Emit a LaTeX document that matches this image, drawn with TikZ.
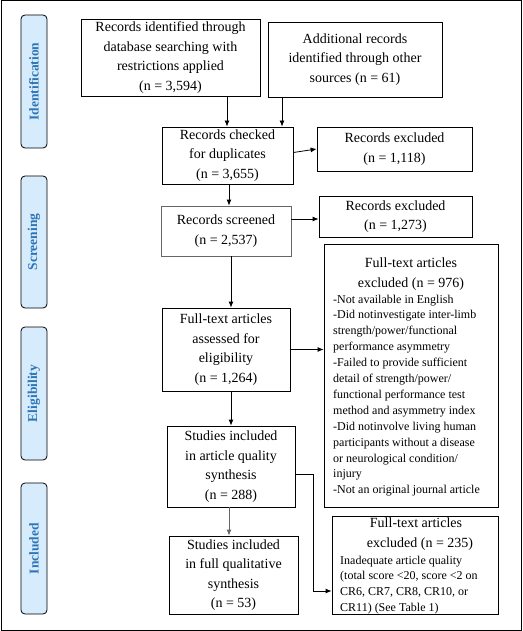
\documentclass[tikz,border=0pt]{standalone}
\usepackage{fontspec}
\setmainfont{Liberation Serif}
\usetikzlibrary{arrows.meta,calc}
\definecolor{phasefill}{RGB}{214,236,253}
\definecolor{phasetext}{RGB}{46,117,182}
\tikzset{
  box/.style={draw, line width=0.8pt, inner sep=0pt, align=center, font=\fontsize{14}{19.5}\selectfont},
  phase/.style={draw, line width=0.8pt, rounded corners=4pt, fill=phasefill, text=phasetext, rotate=90, minimum height=26pt, inner sep=0pt, font=\fontsize{13.5}{15}\selectfont\bfseries},
  arr/.style={line width=0.8pt, -{Latex[length=6pt,width=5pt]}},
  small/.style={inner sep=0pt, align=left, font=\fontsize{12}{15.9}\selectfont},
  title/.style={inner sep=0pt, align=center, font=\fontsize{14}{19.5}\selectfont}
}
\begin{document}
\begin{tikzpicture}[x=1pt,y=-1pt]
\useasboundingbox (0,0) rectangle (522,631);
\draw[line width=1pt] (1,1) rectangle (521,630);
% phases
\node[phase, minimum width=133pt] (ph1) at (34,81.5) {Identification};
\node[phase, minimum width=132pt] (ph2) at (34,242) {Screening};
\node[phase, minimum width=133pt] (ph3) at (34,393.5) {Eligibility};
\node[phase, minimum width=131pt] (ph4) at (34,548.5) {Included};
% boxes
\node[box, minimum width=179pt, minimum height=77pt] (b1) at (170.5,57.5)
  {Records identified through\\database searching with\\restrictions applied\\(n = 3,594)};
\node[box, minimum width=174pt, minimum height=75pt] (b2) at (355,59.5)
  {Additional records\\identified through other\\sources (n = 61)};
\node[box, minimum width=131pt, minimum height=57pt] (b3) at (227.5,155.5)
  {Records checked\\for duplicates\\(n = 3,655)};
\node[box, minimum width=155pt, minimum height=44pt] (b4) at (394.5,149)
  {Records excluded\\(n = 1,118)};
\node[box, draw=black!60, minimum width=130pt, minimum height=50pt] (b5) at (226,231)
  {Records screened\\(n = 2,537)};
\node[box, minimum width=153pt, minimum height=41pt] (b6) at (395.5,216.5)
  {Records excluded\\(n = 1,273)};
\node[box, minimum width=128pt, minimum height=83pt] (b7) at (226,349.5)
  {Full-text articles\\assessed for\\eligibility\\(n = 1,264)};
\node[box, minimum width=174pt, minimum height=263pt] (b8) at (411,375.5) {};
\node[title, anchor=north] (b8t) at (411,258) {Full-text articles\\excluded (n = 976)};
\node[small, anchor=north west] (b8l) at (333,294.5)
  {-Not available in English\\
   -Did notinvestigate inter-limb\\
   strength/power/functional\\
   performance asymmetry\\
   -Failed to provide sufficient\\
   detail of strength/power/\\
   functional performance test\\
   method and asymmetry index\\
   -Did notinvolve living human\\
   participants without a disease\\
   or neurological condition/\\
   injury\\
   -Not an original journal article};
\node[box, minimum width=128pt, minimum height=81pt] (b9) at (231,466.5)
  {Studies included\\in article quality\\synthesis\\(n = 288)};
\node[box, minimum width=129pt, minimum height=78pt] (b10) at (233.5,575)
  {Studies included\\in full qualitative\\synthesis\\(n = 53)};
\node[box, minimum width=166pt, minimum height=98pt] (b11) at (415,565) {};
\node[title, anchor=north] (b11t) at (416,518) {Full-text articles\\\hspace*{8pt}excluded (n = 235)};
\node[small, anchor=north west] (b11l) at (340,555.5)
  {Inadequate article quality\\
   (total score <20, score <2 on\\
   CR6, CR7, CR8, CR10, or\\
   CR11) (See Table 1)};
% connectors
\coordinate (xa) at (227,0);
\coordinate (xb) at (282,0);
\coordinate (xc) at (229,0);
\coordinate (xd) at (231,0);
\coordinate (xe) at (229,0);
\draw[arr] (b1.south -| xa) -- (b3.north -| xa);
\draw[arr] (b2.south -| xb) -- (b3.north -| xb);
\draw[arr] ($(b3.east)+(0,-3)$) -- (b4.west);
\draw[arr] ($(b5.east)+(0,-12)$) -- (b6.west |- {$(b5.east)+(0,-12)$});
\draw[arr] (b3.south -| xc) -- (b5.north -| xc);
\draw[arr] (b5.south -| xd) -- (b7.north -| xd);
\draw[arr] (b7.east) -- (b8.west |- b7.east);
\draw[arr] (b7.south -| xd) -- (b9.north -| xd);
\draw[arr, draw=black!60] (b9.south -| xe) -- (b10.north -| xe);
\coordinate (c1) at (313,474);
\coordinate (c2) at (313,591);
\draw[arr] (b9.east |- c1) -- (c1) -- (c2) -- (b11.west |- c2);
\end{tikzpicture}
\end{document}
